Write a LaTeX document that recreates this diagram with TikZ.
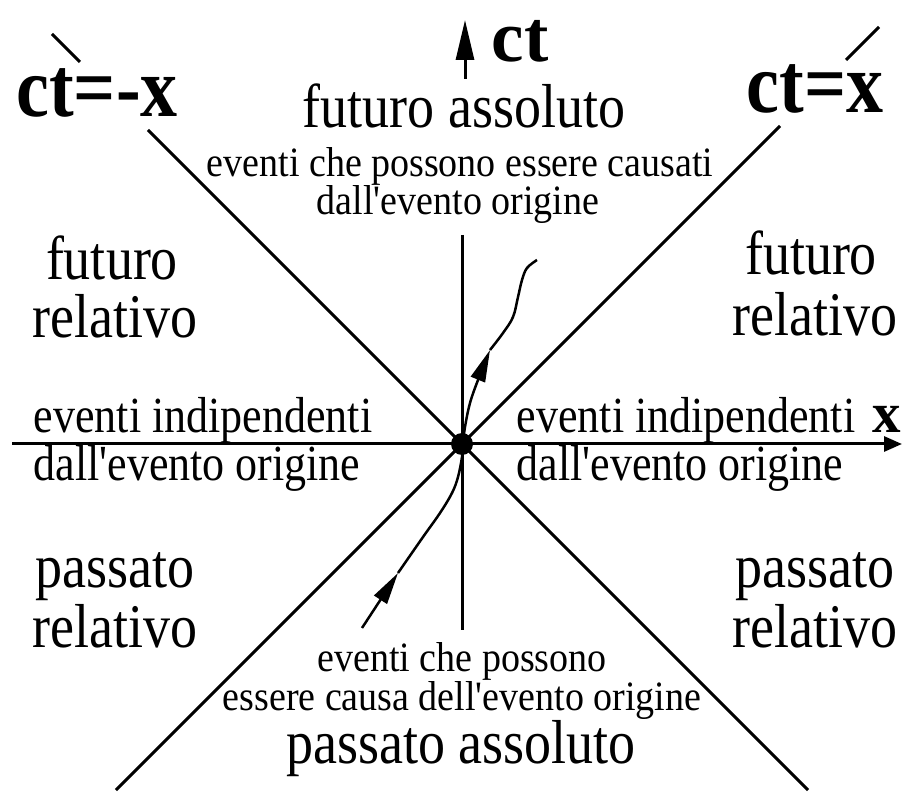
\documentclass[tikz,border=0pt]{standalone}
\usepackage{fontspec}
\setmainfont{Liberation Serif}
\usetikzlibrary{arrows.meta}
\newcommand{\talltxt}[1]{\scalebox{1}[1.15]{#1}}
\newcommand{\tallsm}[1]{\scalebox{1}[1.1]{#1}}
\begin{document}
\begin{tikzpicture}[x=1pt,y=-1pt,line width=3pt,
  big/.style={font=\fontsize{54}{60}\selectfont,anchor=base,inner sep=0pt},
  mid/.style={font=\fontsize{44}{50}\selectfont,anchor=base,inner sep=0pt},
  small/.style={font=\fontsize{38}{42}\selectfont,anchor=base,inner sep=0pt},
  lbl/.style={font=\fontsize{74}{80}\selectfont\bfseries,anchor=base,inner sep=0pt},
  wl/.style={line width=2.5pt},
  wltip/.style={-{Triangle[length=32pt,width=15pt]}},
  ]
\useasboundingbox (0,0) rectangle (903,794);
% origin
\node[circle,fill,inner sep=0pt,minimum size=22pt] (O) at (462,444) {};
% axes
\coordinate (xL) at (12,444);
\coordinate (xR) at (902,444);
\coordinate (tT) at (462,235);
\coordinate (tB) at (462,630);
\coordinate (ctA) at (465,79);
\coordinate (ctB) at (465,20);
\draw[-{Triangle[length=18pt,width=15pt]}] (xL) -- (xR);
\draw (tT) -- (tB);
\draw[-{Triangle[length=40pt,width=18pt]}] (ctA) -- (ctB);
% light cone lines
\coordinate (a1) at (52,34);  \coordinate (a2) at (80,62);
\coordinate (a3) at (148,130); \coordinate (a4) at (808,790);
\coordinate (b1) at (879,27); \coordinate (b2) at (846,60);
\coordinate (b3) at (780,126); \coordinate (b4) at (116,790);
\draw (a1) -- (a2);
\draw (a3) -- (a4);
\draw (b1) -- (b2);
\draw (b3) -- (b4);
% world line
\coordinate (w0) at (362,628);
\coordinate (w1) at (398,573);
\coordinate (w2) at (490,350);
\draw[wl,wltip] (w0) -- (w1);
\draw[wl] plot[smooth,tension=0.6] coordinates {(398,573) (423,537) (440,513) (452,493) (458,477) (462,457) (463,444)};
\draw[wl,wltip] plot[smooth,tension=0.6] coordinates {(463,444) (465,427) (470,403) (478,380) (490,350)};
\draw[wl] plot[smooth,tension=0.6] coordinates {(490,350) (503,333) (513,317) (518,297) (522,280) (527,268) (537,260)};
% labels
\node[lbl] (ctmx) at (97,117) {\talltxt{ct=-x}};
\node[lbl] (ctx) at (815,113) {\talltxt{ct=x}};
\node[lbl,font=\fontsize{73}{80}\selectfont\bfseries] (ct) at (520,62) {ct};
\node[lbl,font=\fontsize{57}{60}\selectfont\bfseries] (xlab) at (887,433) {x};
% top texts
\node[big] (fa) at (464,128) {\talltxt{futuro assoluto}};
\node[small] (fa1) at (460,177) {\tallsm{eventi che possono essere causati}};
\node[small] (fa2) at (458,215) {\tallsm{dall\textquotesingle evento origine}};
% left
\node[big] (fl1) at (112,280) {\talltxt{futuro}};
\node[big] (fl2) at (115,338) {\talltxt{relativo}};
\node[mid] (il1) at (203,432) {\talltxt{eventi indipendenti}};
\node[mid] (il2) at (197,480) {\talltxt{dall\textquotesingle evento origine}};
\node[big] (pl1) at (115,587) {\talltxt{passato}};
\node[big] (pl2) at (115,647) {\talltxt{relativo}};
% right
\node[big] (fr1) at (811,275) {\talltxt{futuro}};
\node[big] (fr2) at (815,336) {\talltxt{relativo}};
\node[mid] (ir1) at (686,432) {\talltxt{eventi indipendenti}};
\node[mid] (ir2) at (680,480) {\talltxt{dall\textquotesingle evento origine}};
\node[big] (pr1) at (815,587) {\talltxt{passato}};
\node[big] (pr2) at (815,647) {\talltxt{relativo}};
% bottom
\node[small] (pa1) at (462,671) {\tallsm{eventi che possono}};
\node[small] (pa2) at (462,710) {\tallsm{essere causa dell\textquotesingle evento origine}};
\node[big] (pa) at (461,763) {\talltxt{passato assoluto}};
\end{tikzpicture}
\end{document}
